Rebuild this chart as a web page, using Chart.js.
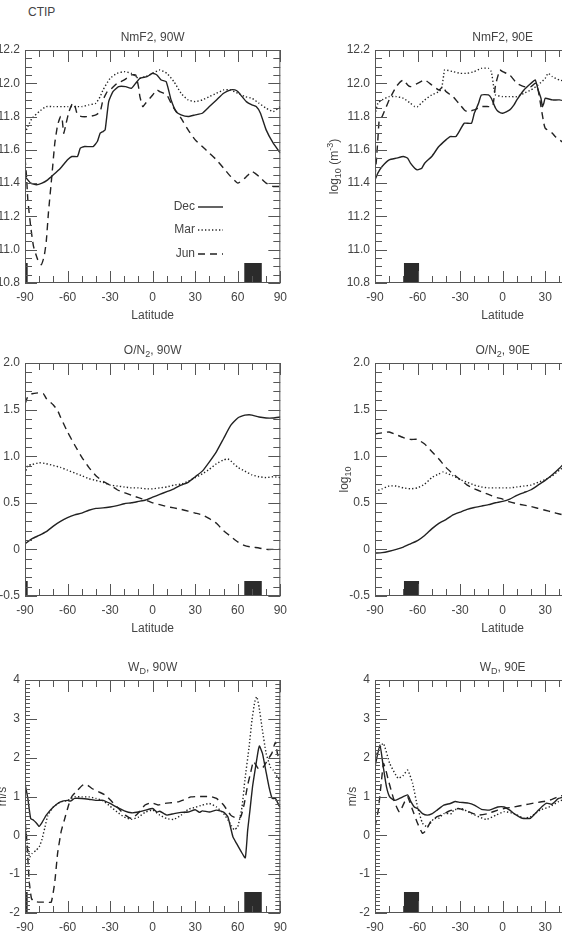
<!DOCTYPE html>
<html>
<head>
<meta charset="utf-8">
<title>CTIP</title>
<script src="https://cdn.jsdelivr.net/npm/chart.js@4.4.1/dist/chart.umd.min.js"></script>
<style>
  body { margin: 0; background: #fff; }
  #page { position: relative; width: 562px; height: 937px; overflow: hidden; font-family: "Liberation Sans", Arial, sans-serif; }
  #page canvas { position: absolute; }
  #ctip { position: absolute; left: 28px; top: 5px; font-size: 12px; color: #444; }
</style>
</head>
<body>
<div id="page">
  <div id="ctip">CTIP</div>
  <canvas id="c1" width="334" height="318"></canvas>
  <canvas id="c2" width="334" height="318"></canvas>
  <canvas id="c3" width="334" height="318"></canvas>
  <canvas id="c4" width="334" height="318"></canvas>
  <canvas id="c5" width="334" height="318"></canvas>
  <canvas id="c6" width="334" height="318"></canvas>
</div>
<script>
// tick labels
const latTicks = [-90, -60, -30, 0, 30, 60, 90];
const nmf2Ticks = [10.8, 11.0, 11.2, 11.4, 11.6, 11.8, 12.0, 12.2];
const onTicks = [-0.5, 0, 0.5, 1.0, 1.5, 2.0];
const wdTicks = [-2, -1, 0, 1, 2, 3, 4];

// black boxes along the bottom axis (latitude ranges)
const westBoxes = [[-90, -88], [64.5, 77]];
const eastBoxes = [[-69.7, -58.8]];

// NmF2, 90W  [latitude, log10 NmF2]
const nmf2W_dec = [[-90,11.44],[-86,11.40],[-82,11.39],[-78,11.40],[-74,11.42],[-70,11.45],[-65,11.49],[-60,11.54],[-57,11.56],[-53,11.56],[-51,11.61],[-48,11.62],[-42,11.62],[-39,11.65],[-37,11.70],[-35,11.71],[-33.5,11.72],[-31,11.89],[-28,11.95],[-24,11.98],[-19,11.98],[-15,11.97],[-12,12.00],[-9,12.03],[-4,12.04],[0,12.06],[3,12.05],[6,12.02],[9.5,12.01],[11.5,11.95],[13,11.90],[16.5,11.83],[20,11.81],[25,11.80],[30,11.81],[35,11.82],[40,11.86],[45,11.90],[50,11.94],[55,11.96],[58,11.96],[60,11.95],[63,11.92],[66,11.89],[70,11.87],[73,11.86],[76,11.82],[80,11.72],[85,11.64],[90,11.58]];
const nmf2W_mar = [[-90,11.70],[-88,11.74],[-85,11.79],[-80,11.83],[-75,11.86],[-70,11.86],[-60,11.86],[-50,11.86],[-45,11.87],[-40,11.88],[-37,11.92],[-35,11.96],[-30,12.03],[-25,12.06],[-20,12.07],[-15,12.06],[-10,12.03],[-5,12.04],[0,12.06],[5,12.08],[10,12.06],[15,12.01],[20,11.94],[25,11.90],[30,11.89],[35,11.90],[40,11.92],[45,11.94],[50,11.96],[55,11.96],[60,11.94],[65,11.92],[70,11.91],[75,11.88],[80,11.85],[85,11.83],[90,11.86]];
const nmf2W_jun = [[-90,11.55],[-89,11.45],[-88,11.30],[-86,11.14],[-84,11.02],[-81,10.94],[-78.5,10.91],[-76.5,10.96],[-75,11.05],[-73.5,11.22],[-71,11.45],[-69,11.64],[-67,11.75],[-65,11.80],[-64,11.80],[-62.7,11.70],[-61,11.76],[-59,11.83],[-56.5,11.88],[-55,11.87],[-53,11.81],[-50,11.80],[-45,11.80],[-40,11.81],[-37,11.83],[-35,11.90],[-32,11.95],[-30,11.96],[-25,12.00],[-20,12.02],[-15,12.05],[-12,12.05],[-10,11.98],[-9,11.92],[-7,11.86],[-5,11.88],[0,11.93],[3,11.96],[5,11.95],[10,11.93],[13,11.88],[15,11.85],[20,11.79],[25,11.72],[30,11.66],[35,11.62],[40,11.58],[45,11.54],[50,11.49],[55,11.44],[60,11.40],[65,11.43],[70,11.47],[75,11.44],[80,11.40],[85,11.38],[90,11.38]];

// NmF2, 90E
const nmf2E_dec = [[-90,11.42],[-88,11.46],[-85,11.50],[-80,11.54],[-75,11.55],[-70,11.56],[-67,11.55],[-65,11.52],[-62,11.49],[-60,11.48],[-57,11.49],[-55,11.52],[-50,11.56],[-45,11.62],[-40,11.66],[-37,11.68],[-33,11.68],[-30,11.72],[-27,11.76],[-22,11.76],[-20,11.82],[-17,11.88],[-15,11.93],[-10,11.93],[-8,11.91],[-5,11.85],[-3,11.83],[0,11.82],[5,11.84],[8,11.87],[10,11.90],[15,11.96],[20,12.00],[23,12.02],[25,11.96],[27,11.91],[28,11.86],[29,11.88],[30,11.91],[35,11.90],[40,11.90],[45,11.89]];
const nmf2E_mar = [[-90,11.81],[-88,11.88],[-85,11.90],[-80,11.92],[-75,11.92],[-70,11.91],[-65,11.88],[-62,11.86],[-60,11.86],[-55,11.90],[-50,11.93],[-45,11.95],[-43,11.97],[-41,12.08],[-40,12.08],[-35,12.07],[-30,12.06],[-25,12.06],[-20,12.07],[-15,12.09],[-10,12.09],[-8,12.07],[-6,11.96],[-5,11.93],[0,11.92],[5,11.92],[10,11.92],[15,11.94],[20,11.96],[25,11.99],[30,12.03],[32,12.06],[35,12.04],[40,12.02],[45,12.01]];
const nmf2E_jun = [[-90,11.44],[-89,11.54],[-88,11.66],[-87,11.78],[-85,11.80],[-83,11.84],[-80,11.90],[-77,11.95],[-75,11.98],[-72,12.01],[-70,12.02],[-67,11.99],[-65,11.98],[-60,12.00],[-55,12.02],[-50,11.99],[-45,11.96],[-42,11.98],[-40,11.95],[-35,11.92],[-30,11.87],[-27,11.84],[-25,11.83],[-20,11.84],[-15,11.86],[-10,11.86],[-7,11.86],[-5,11.99],[-2,12.08],[0,12.07],[5,12.05],[10,12.00],[15,11.98],[20,11.98],[23,12.00],[25,11.96],[27,11.86],[29,11.76],[30,11.73],[35,11.70],[37,11.68],[40,11.66],[45,11.63]];

// O/N2, 90W
const onW_dec = [[-90,0.06],[-85,0.115],[-80,0.15],[-75,0.19],[-70,0.25],[-65,0.30],[-60,0.34],[-55,0.37],[-50,0.39],[-45,0.42],[-40,0.44],[-35,0.445],[-30,0.455],[-25,0.47],[-20,0.49],[-15,0.50],[-10,0.515],[-5,0.53],[0,0.56],[5,0.59],[10,0.62],[15,0.65],[20,0.69],[25,0.72],[30,0.78],[35,0.84],[40,0.94],[45,1.05],[50,1.19],[55,1.33],[60,1.41],[65,1.44],[68,1.445],[70,1.44],[75,1.42],[80,1.41],[85,1.41],[90,1.42]];
const onW_mar = [[-90,0.81],[-88,0.90],[-85,0.91],[-80,0.93],[-75,0.92],[-70,0.90],[-65,0.88],[-60,0.85],[-55,0.82],[-50,0.79],[-45,0.76],[-40,0.74],[-35,0.72],[-30,0.69],[-25,0.68],[-20,0.67],[-15,0.66],[-10,0.66],[-5,0.65],[0,0.65],[5,0.66],[10,0.67],[15,0.69],[20,0.70],[25,0.73],[30,0.77],[35,0.81],[40,0.86],[45,0.92],[50,0.96],[53,0.97],[55,0.95],[60,0.88],[65,0.84],[70,0.80],[75,0.78],[80,0.77],[85,0.78],[90,0.77]];
const onW_jun = [[-90,1.56],[-88,1.64],[-85,1.67],[-80,1.68],[-77,1.67],[-75,1.62],[-70,1.55],[-67,1.49],[-65,1.42],[-60,1.26],[-55,1.12],[-50,0.99],[-45,0.88],[-40,0.79],[-35,0.73],[-30,0.69],[-25,0.64],[-20,0.61],[-15,0.58],[-10,0.555],[-5,0.53],[0,0.50],[5,0.48],[10,0.46],[15,0.445],[20,0.43],[25,0.41],[30,0.39],[35,0.37],[40,0.33],[45,0.28],[50,0.20],[55,0.14],[60,0.08],[65,0.04],[70,0.025],[75,0.015],[80,0.0],[85,0.0],[90,0.0]];

// O/N2, 90E
const onE_dec = [[-90,-0.04],[-85,-0.035],[-80,-0.02],[-75,0.0],[-70,0.025],[-65,0.06],[-60,0.095],[-55,0.15],[-50,0.22],[-45,0.28],[-40,0.32],[-35,0.37],[-30,0.40],[-25,0.43],[-20,0.45],[-15,0.465],[-10,0.48],[-5,0.50],[0,0.515],[5,0.54],[10,0.58],[15,0.61],[20,0.64],[25,0.69],[30,0.74],[35,0.80],[40,0.87],[45,0.95]];
const onE_mar = [[-90,0.62],[-85,0.65],[-80,0.68],[-75,0.68],[-70,0.66],[-65,0.65],[-60,0.66],[-55,0.70],[-50,0.77],[-45,0.81],[-42,0.83],[-40,0.82],[-35,0.79],[-30,0.75],[-25,0.72],[-20,0.69],[-15,0.67],[-10,0.66],[-5,0.66],[0,0.66],[5,0.66],[10,0.67],[15,0.68],[20,0.69],[25,0.72],[30,0.75],[35,0.79],[40,0.85],[45,0.91]];
const onE_jun = [[-90,1.24],[-85,1.25],[-80,1.26],[-75,1.23],[-70,1.20],[-65,1.18],[-60,1.18],[-55,1.13],[-50,1.05],[-45,0.97],[-40,0.88],[-35,0.81],[-30,0.75],[-25,0.69],[-20,0.65],[-15,0.62],[-10,0.59],[-5,0.56],[0,0.54],[5,0.51],[10,0.49],[15,0.475],[20,0.46],[25,0.44],[30,0.42],[35,0.40],[40,0.38],[45,0.36]];

// W_D, 90W  (m/s)
const wdW_dec = [[-90,1.34],[-88,0.95],[-86,0.43],[-84,0.39],[-82,0.32],[-80,0.23],[-78,0.33],[-75,0.52],[-70,0.73],[-65,0.86],[-60,0.90],[-58,0.88],[-55,0.95],[-50,0.95],[-45,0.93],[-40,0.90],[-35,0.90],[-30,0.82],[-25,0.72],[-20,0.63],[-15,0.58],[-10,0.60],[-5,0.65],[0,0.69],[3,0.60],[5,0.62],[10,0.52],[15,0.56],[20,0.59],[25,0.60],[30,0.66],[33,0.59],[35,0.63],[40,0.60],[45,0.65],[50,0.60],[53,0.48],[56.6,-0.04],[59,-0.20],[62.4,-0.42],[65.3,-0.58],[67,0.14],[68.6,0.65],[70.4,1.25],[72.5,1.75],[74.5,2.20],[75.3,2.30],[77.4,2.11],[79.7,1.68],[82,1.25],[84.3,0.95],[86.6,0.95],[88.9,0.78],[90,0.72]];
const wdW_mar = [[-90,0.35],[-89,0.0],[-88,-0.35],[-86.5,-0.55],[-85,-0.47],[-82,-0.38],[-80,-0.30],[-78,-0.10],[-76,0.20],[-74,0.50],[-70,0.73],[-65,0.86],[-60,0.90],[-55,0.99],[-50,0.99],[-45,0.99],[-40,0.95],[-35,0.89],[-30,0.75],[-25,0.60],[-20,0.47],[-15,0.41],[-10,0.47],[-5,0.60],[0,0.65],[5,0.52],[10,0.43],[15,0.41],[20,0.52],[25,0.67],[30,0.72],[35,0.78],[40,0.82],[45,0.73],[50,0.56],[53,0.40],[55.5,0.25],[57.5,0.14],[60,0.22],[63,0.73],[65,1.42],[68,2.28],[70,2.97],[72,3.44],[73.4,3.57],[75,3.31],[77,2.80],[80,2.11],[83,1.76],[85,1.68],[88,1.50],[90,1.42]];
const wdW_jun = [[-90,0.35],[-89,0.0],[-88,-0.6],[-87,-1.2],[-85.5,-1.62],[-84,-1.70],[-80,-1.72],[-75,-1.72],[-71.5,-1.72],[-69,-1.20],[-67,-0.46],[-64.5,0.10],[-62.3,0.39],[-59.5,0.75],[-57,1.00],[-53,1.16],[-49.5,1.29],[-47,1.32],[-42.5,1.20],[-38,1.12],[-33,1.03],[-28.5,0.86],[-24,0.69],[-19.3,0.52],[-14.7,0.43],[-10,0.58],[-5.4,0.78],[-0.8,0.84],[3.8,0.78],[8.4,0.82],[13,0.84],[17.7,0.86],[22.3,0.92],[27,0.99],[31.6,1.00],[36.2,1.00],[40.9,1.00],[45,0.95],[50,0.78],[55,0.52],[58,0.46],[62,0.47],[64.5,0.80],[67,1.30],[69,1.60],[71,1.90],[73,1.80],[75,1.70],[78,1.76],[81,1.94],[84,2.11],[86.5,2.40],[88,2.10],[90,1.85]];

// W_D, 90E
const wdE_dec = [[-90,1.77],[-86.5,2.33],[-84.2,1.77],[-81.9,1.25],[-79.6,0.99],[-76.2,0.90],[-72.7,0.95],[-67,1.04],[-64.6,0.86],[-62.3,0.73],[-60,0.69],[-56.5,0.56],[-53.1,0.52],[-49.6,0.56],[-46.2,0.65],[-41.5,0.78],[-36.9,0.82],[-33.4,0.87],[-30,0.85],[-24.2,0.83],[-20,0.78],[-15,0.67],[-9.3,0.65],[-3.5,0.73],[1.1,0.73],[5,0.65],[8,0.56],[13.8,0.44],[19.6,0.44],[24.2,0.61],[28,0.75],[31.1,0.83],[34.6,0.80],[39.4,0.95],[45,1.00]];
const wdE_mar = [[-90,2.02],[-84.2,2.37],[-79.6,1.85],[-73.8,1.47],[-70.4,1.53],[-67,1.68],[-63.5,1.34],[-60,0.73],[-56.5,0.31],[-53.1,0.22],[-48.5,0.43],[-45,0.44],[-41.5,0.56],[-35.8,0.56],[-34.6,0.65],[-28.9,0.69],[-22,0.56],[-11.6,0.41],[-4.7,0.52],[1.1,0.61],[8,0.56],[14.9,0.44],[19.6,0.48],[26.5,0.65],[33.4,0.74],[39.4,0.87],[45,0.95]];
const wdE_jun = [[-90,0.22],[-87.7,0.65],[-85.4,1.42],[-84,1.85],[-82.5,1.70],[-80.8,1.45],[-77.3,0.99],[-75,0.75],[-72.7,0.60],[-69.3,0.85],[-67,0.99],[-63.5,0.65],[-60,0.31],[-56.5,0.05],[-54.2,0.12],[-50.8,0.35],[-46.2,0.48],[-41.5,0.55],[-38,0.62],[-31.2,0.69],[-24.2,0.61],[-17.3,0.52],[-10.4,0.56],[-3.5,0.65],[1.1,0.69],[8,0.73],[14.9,0.78],[21.9,0.83],[28.8,0.87],[33.4,0.91],[39.4,1.00],[45,1.05]];

const FONT = '"Liberation Sans", Arial, sans-serif';
const TXT = '#444';
const INK = '#222';
const AXIS = '#555';

const LOG_M3 = [['log'], ['10', 'sub'], [' (m'], ['-3', 'sup'], [')']];
const LOG = [['log'], ['10', 'sub']];
const MS = [['m/s']];

const fmt1 = v => v.toFixed(1);
const fmtOn = v => (v === 0 ? '0' : v.toFixed(1));
const fmtInt = v => String(v);

const panels = [
  { id: 'c1', left: -40, top: 5, title: [['NmF2, 90W']], yTitle: LOG_M3, yOff: 40,
    series: [nmf2W_dec, nmf2W_mar, nmf2W_jun], boxes: westBoxes, boxTop: 10.92,
    yMin: 10.8, yMax: 12.2, yTicks: nmf2Ticks, fmt: fmt1, major: 0.2, minor: 0.05, minorLen: 7, legend: true },
  { id: 'c2', left: 310, top: 5, title: [['NmF2, 90E']], yTitle: LOG_M3, yOff: 40,
    series: [nmf2E_dec, nmf2E_mar, nmf2E_jun], boxes: eastBoxes, boxTop: 10.92,
    yMin: 10.8, yMax: 12.2, yTicks: nmf2Ticks, fmt: fmt1, major: 0.2, minor: 0.05, minorLen: 7 },
  { id: 'c3', left: -40, top: 318, title: [['O/N'], ['2', 'sub'], [', 90W']], yTitle: LOG, yOff: 32,
    series: [onW_dec, onW_mar, onW_jun], boxes: westBoxes, boxTop: -0.34,
    yMin: -0.5, yMax: 2.0, yTicks: onTicks, fmt: fmtOn, major: 0.5, minor: 0.1, minorLen: 7 },
  { id: 'c4', left: 310, top: 318, title: [['O/N'], ['2', 'sub'], [', 90E']], yTitle: LOG, yOff: 30,
    series: [onE_dec, onE_mar, onE_jun], boxes: eastBoxes, boxTop: -0.34,
    yMin: -0.5, yMax: 2.0, yTicks: onTicks, fmt: fmtOn, major: 0.5, minor: 0.1, minorLen: 7 },
  { id: 'c5', left: -40, top: 635, title: [['W'], ['D', 'sub'], [', 90W']], yTitle: MS, yOff: 22,
    series: [wdW_dec, wdW_mar, wdW_jun], boxes: westBoxes, boxTop: -1.46,
    yMin: -2, yMax: 4, yTicks: wdTicks, fmt: fmtInt, major: 1, minor: 0.1, minorLen: 5 },
  { id: 'c6', left: 310, top: 635, title: [['W'], ['D', 'sub'], [', 90E']], yTitle: MS, yOff: 22,
    series: [wdE_dec, wdE_mar, wdE_jun], boxes: eastBoxes, boxTop: -1.46,
    yMin: -2, yMax: 4, yTicks: wdTicks, fmt: fmtInt, major: 1, minor: 0.1, minorLen: 5 }
];

const months = ['Dec', 'Mar', 'Jun'];
const dashes = [[], [1.3, 2.2], [7, 5]];

function richWidth(ctx, segs, size) {
  let w = 0;
  for (const [t, m] of segs) {
    ctx.font = (m ? size * 0.75 : size) + 'px ' + FONT;
    w += ctx.measureText(t).width;
  }
  return w;
}

function drawRich(ctx, segs, x, y, size) {
  let cx = x - richWidth(ctx, segs, size) / 2;
  ctx.textAlign = 'left';
  ctx.textBaseline = 'middle';
  for (const [t, m] of segs) {
    const s = m ? size * 0.75 : size;
    const dy = m === 'sub' ? size * 0.3 : m === 'sup' ? -size * 0.35 : 0;
    ctx.font = s + 'px ' + FONT;
    ctx.fillText(t, cx, y + dy);
    cx += ctx.measureText(t).width;
  }
}

// frame, inward ticks on all sides, titles and the line legend
const decor = {
  id: 'decor',
  afterDraw(chart, args, opts) {
    const ctx = chart.ctx;
    const a = chart.chartArea;
    const xs = chart.scales.x, ys = chart.scales.y;
    ctx.save();
    ctx.strokeStyle = AXIS;
    ctx.lineWidth = 1;
    ctx.strokeRect(a.left + 0.5, a.top + 0.5, a.right - a.left - 1, a.bottom - a.top - 1);
    ctx.beginPath();
    for (let v = -90; v <= 90; v += 10) {
      const px = Math.round(xs.getPixelForValue(v)) + 0.5;
      const len = v % 30 === 0 ? 12 : 7;
      ctx.moveTo(px, a.bottom); ctx.lineTo(px, a.bottom - len);
      ctx.moveTo(px, a.top); ctx.lineTo(px, a.top + len);
    }
    const n = Math.round((opts.yMax - opts.yMin) / opts.minor);
    for (let i = 0; i <= n; i++) {
      const v = opts.yMin + i * opts.minor;
      const r = v / opts.major;
      const len = Math.abs(r - Math.round(r)) < 1e-6 ? 12 : opts.minorLen;
      const py = Math.round(ys.getPixelForValue(v)) + 0.5;
      ctx.moveTo(a.left, py); ctx.lineTo(a.left + len, py);
      ctx.moveTo(a.right, py); ctx.lineTo(a.right - len, py);
    }
    ctx.stroke();

    ctx.fillStyle = TXT;
    drawRich(ctx, opts.title, (a.left + a.right) / 2, a.top - 12, 12);
    ctx.save();
    ctx.translate(a.left - opts.yOff, (a.top + a.bottom) / 2);
    ctx.rotate(-Math.PI / 2);
    drawRich(ctx, opts.yTitle, 0, 0, 12);
    ctx.restore();

    if (opts.legend) {
      ctx.font = '12px ' + FONT;
      ctx.textAlign = 'right';
      ctx.textBaseline = 'middle';
      const rows = [157, 180, 204];
      months.forEach((m, i) => {
        const y = a.top + rows[i];
        ctx.fillStyle = TXT;
        ctx.fillText(m, a.left + 170, y);
        ctx.strokeStyle = INK;
        ctx.lineWidth = 1.4;
        ctx.setLineDash(dashes[i]);
        ctx.beginPath();
        ctx.moveTo(a.left + 173, y);
        ctx.lineTo(a.left + 198, y);
        ctx.stroke();
      });
      ctx.setLineDash([]);
    }
    ctx.restore();
  }
};

panels.forEach(p => {
  const el = document.getElementById(p.id);
  el.style.left = p.left + 'px';
  el.style.top = p.top + 'px';

  const datasets = [];
  p.series.forEach((s, i) => {
    datasets.push({
      label: months[i],
      data: s.map(([x, y]) => ({ x, y })),
      borderColor: INK,
      borderWidth: 1.4,
      borderDash: dashes[i],
      pointRadius: 0,
      tension: 0.15,
      fill: false
    });
  });
  p.boxes.forEach(([x0, x1]) => {
    datasets.push({
      data: [{ x: x0, y: p.boxTop }, { x: x1, y: p.boxTop }],
      borderWidth: 0,
      borderColor: 'rgba(0,0,0,0)',
      backgroundColor: '#2b2b2b',
      pointRadius: 0,
      fill: 'start'
    });
  });

  new Chart(el, {
    type: 'line',
    data: { datasets },
    options: {
      responsive: false,
      animation: false,
      events: [],
      layout: { padding: { top: 45, right: 10, left: 0, bottom: 0 } },
      plugins: {
        legend: { display: false },
        tooltip: { enabled: false },
        decor: { title: p.title, yTitle: p.yTitle, yOff: p.yOff, yMin: p.yMin, yMax: p.yMax,
                 major: p.major, minor: p.minor, minorLen: p.minorLen, legend: !!p.legend }
      },
      scales: {
        x: {
          type: 'linear', min: -90, max: 90,
          afterBuildTicks: s => { s.ticks = latTicks.map(v => ({ value: v })); },
          afterFit: s => { s.height = 40; },
          grid: { display: false, drawTicks: false },
          border: { display: false },
          ticks: { padding: 7, color: TXT, font: { family: FONT, size: 12 }, maxRotation: 0, autoSkip: false, callback: v => String(v) },
          title: { display: true, text: 'Latitude', color: TXT, font: { family: FONT, size: 12 }, padding: { top: 6, bottom: 0 } }
        },
        y: {
          type: 'linear', min: p.yMin, max: p.yMax,
          afterBuildTicks: s => { s.ticks = p.yTicks.map(v => ({ value: v })); },
          afterFit: s => { s.width = 65; },
          grid: { display: false, drawTicks: false },
          border: { display: false },
          ticks: { padding: 5, color: TXT, font: { family: FONT, size: 12 }, autoSkip: false, callback: v => p.fmt(v) }
        }
      }
    },
    plugins: [decor]
  });
});
</script>
</body>
</html>
